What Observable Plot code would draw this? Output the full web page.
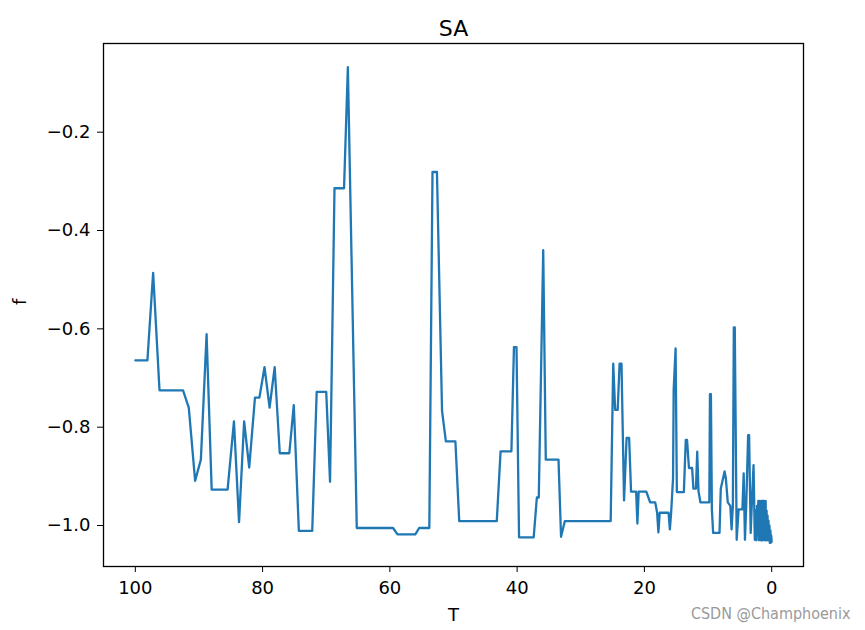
<!DOCTYPE html>
<html>
<head>
<meta charset="utf-8">
<script src="https://cdn.jsdelivr.net/npm/d3@7"></script>
<script src="https://cdn.jsdelivr.net/npm/@observablehq/plot@0.6"></script>
<style>
  html, body { margin: 0; padding: 0; background: #fff; }
  #chart { width: 865px; height: 630px; }
</style>
</head>
<body>
<div id="chart"></div>
<script>
// Temperature (x) values
const T = [
  100, 98.1, 97.2, 96.2, 92.5, 91.6, 90.6, 89.7, 88.8, 88.0,
  85.5, 84.5, 83.7, 82.9, 82.1, 81.2, 80.5, 79.7, 78.9, 78.1,
  77.3, 75.8, 75.1, 74.3, 72.2, 71.5, 70.0, 69.4, 68.7, 67.2,
  66.6, 65.2, 59.5, 58.8, 56.0, 55.4, 53.8, 53.3, 52.6, 51.8,
  51.2, 49.7, 49.1, 43.2, 42.6, 40.9, 40.5, 40.1, 39.7, 37.4,
  36.9, 36.6, 35.9, 35.5, 33.5, 33.1, 32.5, 25.3, 24.9, 24.6,
  24.2, 23.9, 23.6, 23.2, 22.8, 22.4, 22.1, 21.3, 21.1, 20.9,
  19.7, 19.1, 18.3, 18.0, 17.8, 17.6, 16.2, 16.0, 15.8, 15.5,
  15.4, 15.1, 14.9, 13.8, 13.5, 13.3, 13.0, 12.5, 12.3, 11.9,
  11.7, 11.5, 11.2, 9.8, 9.7, 9.55, 9.4, 9.2, 8.2, 8.0,
  7.4, 7.2, 6.9, 6.5, 6.3, 6.1, 5.95, 5.8, 5.5, 5.2,
  4.6, 4.4, 4.2, 4.0, 3.7, 3.55, 3.3, 3.1, 2.85, 2.65,
  2.5, 2.4, 2.3, 2.2, 2.1, 2.0, 1.9, 1.85, 1.75, 1.7,
  1.6, 1.55, 1.5, 1.45, 1.35, 1.3, 1.2, 1.15, 1.05, 1.0,
  0.95, 0.9, 0.8, 0.75, 0.65, 0.6, 0.5, 0.45, 0.35, 0.3,
  0.2, 0.15, 0.08, 0.0
];
// Objective (f) values
const f = [
  -0.664, -0.664, -0.486, -0.725, -0.725, -0.760, -0.909, -0.866, -0.611, -0.927,
  -0.927, -0.788, -0.993, -0.788, -0.882, -0.740, -0.740, -0.678, -0.760, -0.678,
  -0.853, -0.853, -0.755, -1.011, -1.011, -0.728, -0.728, -0.911, -0.314, -0.314,
  -0.068, -1.005, -1.005, -1.018, -1.018, -1.005, -1.005, -0.281, -0.281, -0.767,
  -0.829, -0.829, -0.991, -0.991, -0.849, -0.849, -0.637, -0.637, -1.024, -1.024,
  -0.943, -0.943, -0.440, -0.866, -0.866, -1.023, -0.991, -0.991, -0.671, -0.765,
  -0.765, -0.671, -0.671, -0.949, -0.822, -0.822, -0.931, -0.931, -0.996, -0.931,
  -0.931, -0.953, -0.953, -0.974, -1.014, -0.974, -0.974, -1.008, -0.974, -0.904,
  -0.724, -0.640, -0.932, -0.932, -0.826, -0.826, -0.883, -0.883, -0.925, -0.925,
  -0.850, -0.930, -0.953, -0.953, -0.733, -0.733, -0.967, -1.015, -1.015, -0.925,
  -0.890, -0.904, -0.953, -0.960, -1.008, -0.960, -0.597, -0.597, -1.029, -0.967,
  -0.967, -0.894, -1.029, -0.960, -0.816, -0.816, -1.015, -0.950, -0.877, -1.029,
  -0.970, -1.030, -0.960, -1.020, -0.950, -1.030, -0.950, -1.020, -0.960, -1.030,
  -0.950, -1.010, -0.950, -1.030, -0.950, -1.020, -0.950, -1.030, -0.960, -1.020,
  -0.950, -1.030, -0.970, -1.030, -0.980, -1.030, -0.990, -1.030, -1.000, -1.035,
  -1.010, -1.035, -1.020, -1.033
];
const xTicks = [0, 20, 40, 60, 80, 100];
const yTicks = [-1.0, -0.8, -0.6, -0.4, -0.2];
const titleText = "SA";
const xLabel = "T";
const yLabel = "f";
const watermark = "CSDN @Champhoenix";

const data = T.map((t, i) => ({T: t, f: f[i]}));

// matplotlib-style 5% margins around the data range
const [tMin, tMax] = d3.extent(T);
const tPad = (tMax - tMin) * 0.05;
const [fMin, fMax] = d3.extent(f);
const fPad = (fMax - fMin) * 0.05;

const fmt = d3.format(".1f");

const chart = Plot.plot({
  width: 865,
  height: 630,
  marginLeft: 103,
  marginRight: 62,
  marginTop: 43,
  marginBottom: 64,
  style: {fontFamily: "DejaVu Sans, sans-serif", fontSize: "18px", color: "#000", background: "#fff", overflow: "visible"},
  x: {domain: [tMax + tPad, tMin - tPad], ticks: xTicks, tickSize: 6, tickPadding: 9, label: null, tickFormat: d => String(d)},
  y: {domain: [fMin - fPad, fMax + fPad], ticks: yTicks, tickSize: 6, tickPadding: 7, label: null, tickFormat: fmt},
  marks: [
    Plot.line(data, {x: "T", y: "f", stroke: "#1f77b4", strokeWidth: 2.3, strokeLinejoin: "round"}),
    Plot.frame({stroke: "#000", strokeWidth: 1.3}),
    Plot.text([titleText], {text: d => d, frameAnchor: "top", lineAnchor: "bottom", dy: -8, fontSize: 22}),
    Plot.text([xLabel], {text: d => d, frameAnchor: "bottom", lineAnchor: "bottom", dy: 54, fontSize: 18}),
    Plot.text([yLabel], {text: d => d, frameAnchor: "left", rotate: -90, dx: -83, fontSize: 18}),
    Plot.text([watermark], {text: d => d, frameAnchor: "bottom-right", textAnchor: "end", lineAnchor: "bottom", dx: 47, dy: 52, fontSize: 16, fill: "#9a9a9a", fontFamily: "Liberation Sans Narrow, DejaVu Sans Condensed, Roboto, sans-serif"})
  ]
});
document.getElementById("chart").appendChild(chart);
</script>
</body>
</html>
